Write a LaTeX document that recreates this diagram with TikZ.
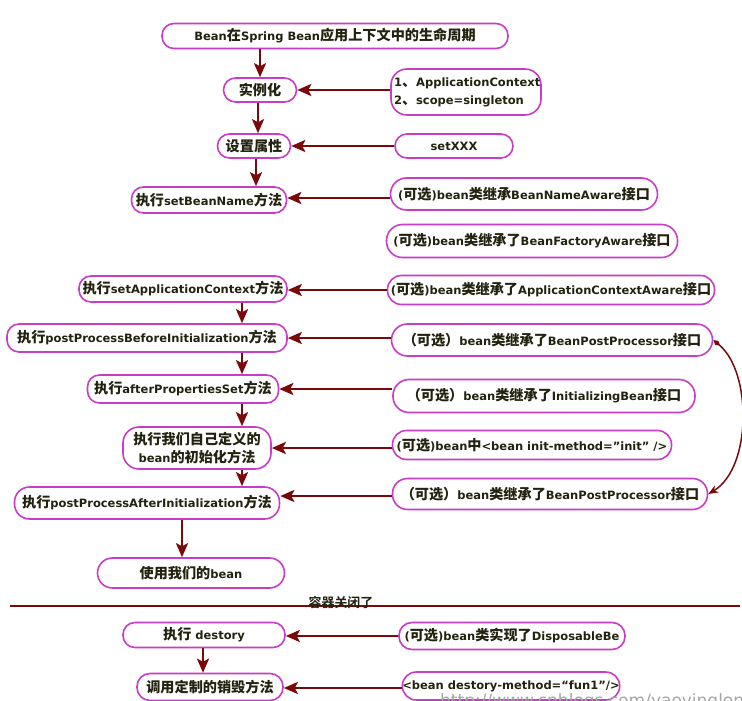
\documentclass[tikz,border=0pt]{standalone}
\usepackage{fontspec}
\setmainfont{DejaVu Sans}
\newfontfamily\cjk{Noto Sans CJK SC Bold}[Scale=1.23]
\newfontfamily\cjkplain{Noto Sans CJK SC}
\usetikzlibrary{arrows.meta}
\definecolor{edge}{HTML}{C83CC8}
\definecolor{wine}{HTML}{7A0A0A}
\definecolor{ink}{HTML}{22220F}
\newcommand\zh[1]{{\cjk #1}}
\tikzset{
  box/.style={draw=edge, line width=1.6pt, rounded corners=#1, inner sep=0pt,
    text=ink, font=\fontsize{11.5}{18}\selectfont\bfseries, align=center, fill=white},
  box/.default=12pt,
  flow/.style={draw=wine, line width=2.3pt, -{Stealth[length=14pt,width=12pt,inset=3pt]}},
}
\begin{document}
\begin{tikzpicture}[x=1pt,y=-1pt]
\useasboundingbox[fill=white] (0,0) rectangle (742,701);

% life-cycle steps (left column)
\node[box, minimum width=346pt, minimum height=25pt] (title) at (335,36)
  {Bean\zh{在}Spring Bean\zh{应用上下文中的生命周期}};
\node[box, minimum width=73pt, minimum height=24pt] (n1) at (260,90) {\zh{实例化}};
\node[box, minimum width=73pt, minimum height=24pt] (n2) at (254,146) {\zh{设置属性}};
\node[box, minimum width=155pt, minimum height=26pt] (n3) at (209,200) {\zh{执行}setBeanName\zh{方法}};
\node[box, minimum width=208pt, minimum height=26pt] (n4) at (183,289) {\zh{执行}setApplicationContext\zh{方法}};
\node[box, minimum width=280pt, minimum height=28pt] (n5) at (147,338) {\zh{执行}postProcessBeforeInitialization\zh{方法}};
\node[box, minimum width=191pt, minimum height=28pt] (n6) at (183,389) {\zh{执行}afterPropertiesSet\zh{方法}};
\node[box=16pt, minimum width=148pt, minimum height=42pt] (n7) at (197,448) {\zh{执行我们自己定义的}\\bean\zh{的初始化方法}};
\node[box=15pt, minimum width=265pt, minimum height=32pt] (n8) at (147,503) {\zh{执行}postProcessAfterInitialization\zh{方法}};
\node[box=15pt, minimum width=187pt, minimum height=30pt] (n9) at (191,573) {\zh{使用我们的}bean};
\node[box, minimum width=162pt, minimum height=25pt] (n10) at (204,635) {\zh{执行} destory};
\node[box=13pt, minimum width=146pt, minimum height=27pt] (n11) at (210,687) {\zh{调用定制的销毁方法}};

% conditions (right column)
\node[box=16pt, minimum width=150pt, minimum height=46pt, align=left, text width=144pt] (a1) at (466,92)
  {1\zh{、}ApplicationContext\\2\zh{、}scope=singleton};
\node[box, minimum width=118pt, minimum height=24pt] (a2) at (454,146) {setXXX};
\node[box=16pt, minimum width=267pt, minimum height=32pt] (a3) at (524,194) {(\zh{可选})bean\zh{类继承}BeanNameAware\zh{接口}};
\node[box=16pt, minimum width=291pt, minimum height=33pt] (a4) at (532,241) {(\zh{可选})bean\zh{类继承了}BeanFactoryAware\zh{接口}};
\node[box=14pt, minimum width=327pt, minimum height=29pt] (a5) at (551,290) {(\zh{可选})bean\zh{类继承了}ApplicationContextAware\zh{接口}};
\node[box=16pt, minimum width=321pt, minimum height=32pt] (a6) at (552,340) {\zh{（可选）}bean\zh{类继承了}BeanPostProcessor\zh{接口}};
\node[box=16pt, minimum width=302pt, minimum height=33pt] (a7) at (544,396) {\zh{（可选）}bean\zh{类继承了}InitializingBean\zh{接口}};
\node[box=14pt, minimum width=279pt, minimum height=29pt] (a8) at (532,445) {(\zh{可选})bean\zh{中}<bean init-method="init" />};
\node[box=15pt, minimum width=315pt, minimum height=31pt] (a9) at (550,494) {\zh{（可选）}bean\zh{类继承了}BeanPostProcessor\zh{接口}};
\node[box=13pt, minimum width=226pt, minimum height=27pt] (a10) at (512,636) {(\zh{可选})bean\zh{类实现了}DisposableBe};
\node[box=14pt, minimum width=217pt, minimum height=28pt] (a11) at (511,686) {<bean destory-method=“fun1”/>};

% main flow
\coordinate (spine) at (242,0);
\coordinate (spineb) at (182,0);
\draw[flow] (title.south -| n1.north) -- (n1.north);
\draw[flow] (n1.south -| 258,0) -- (n2.north -| 258,0);
\draw[flow] (n2.south -| 256,0) -- (n3.north -| 256,0);
\draw[flow] (n4.south -| spine) -- (n5.north -| spine);
\draw[flow] (n5.south -| spine) -- (n6.north -| spine);
\draw[flow] (n6.south -| spine) -- (n7.north -| spine);
\draw[flow] (n7.south -| spine) -- (n8.north -| spine);
\draw[flow] (n8.south -| spineb) -- (n9.north -| spineb);
\draw[flow] (n10.south -| 203,0) -- (n11.north -| 203,0);

% conditions feeding the steps
\draw[flow] (a1.west |- n1.east) -- (n1.east);
\draw[flow] (a2.west) -- (n2.east);
\draw[flow] (a3.west |- 0,198) -- (n3.east |- 0,198);
\draw[flow] (a5.west) -- (n4.east |- a5.west);
\draw[flow] (a6.west |- n5.east) -- (n5.east);
\draw[flow] (a7.west |- n6.east) -- (n6.east);
\draw[flow] (a8.west |- n7.east) -- (n7.east);
\draw[flow] (a9.west |- 0,496) -- (n8.east |- 0,496);
\draw[flow] (a10.west) -- (n10.east |- a10.west);
\draw[flow] (a11.west |- 0,688) -- (n11.east |- 0,688);

% the same post-processor serves both hooks
\draw[wine, line width=1.5pt, {Diamond[length=9pt,width=5pt]}-{Stealth[length=10pt,width=8pt]}]
  (a6.east) .. controls (752,372) and (752,468) .. (a9.east);

% container shutdown
\coordinate (sepL) at (10,606);
\coordinate (sepR) at (740,606);
\draw[wine, line width=1.3pt] (sepL) -- (sepR);
\node[text=ink, font=\cjk\fontsize{10.5}{13}\selectfont, inner sep=0pt] (closed) at (341,603) {容器关闭了};

% blog address along the bottom edge
\node[text=black!35, font=\fontsize{17}{20}\selectfont, anchor=north west, inner sep=0pt] (url) at (440,693)
  {http://www.cnblogs.com/yaoyinglong};
\end{tikzpicture}
\end{document}
